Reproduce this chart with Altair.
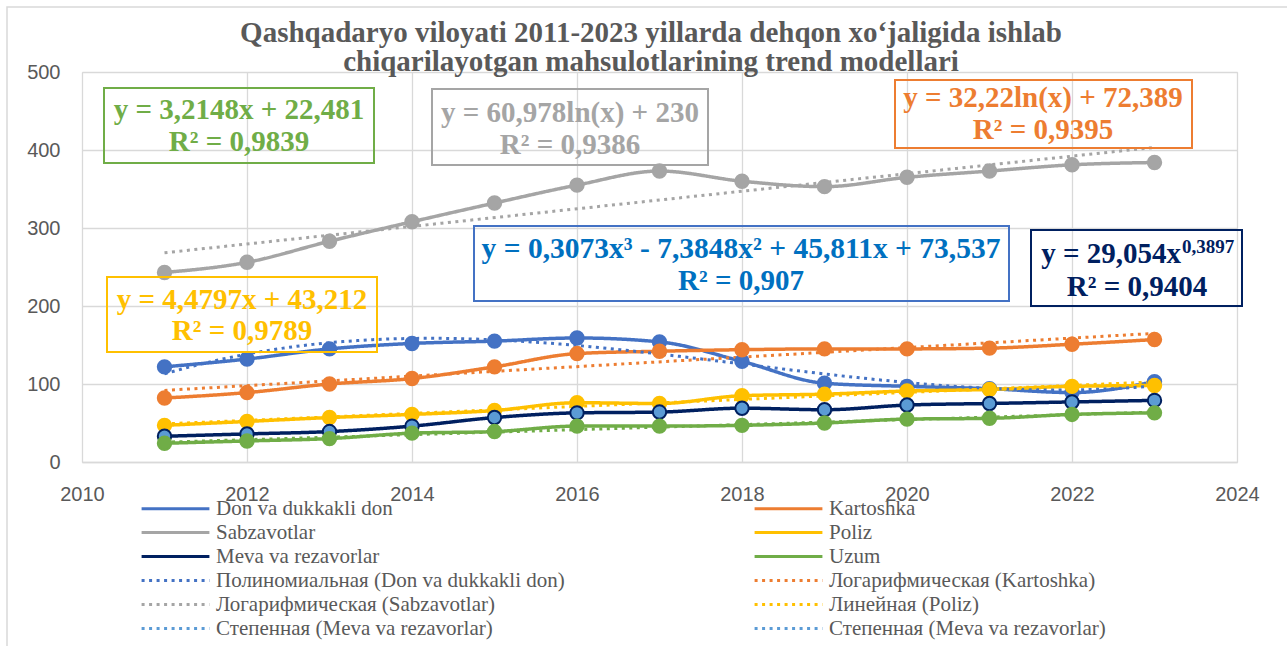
import altair as alt
import pandas as pd

years = list(range(2011, 2024))
don = [122, 132, 145, 152, 155, 159, 154, 129, 101, 97, 94, 89, 103]
kartoshka = [82, 89, 100, 107, 122, 139, 142, 144, 145, 145, 146, 151, 157]
sabzavotlar = [243, 256, 283, 308, 332, 355, 373, 360, 353, 365, 373, 381, 384]
poliz = [47, 52, 57, 61, 66, 76, 75, 85, 87, 91, 93, 97, 98]
meva = [33, 36, 39, 46, 57, 63, 64, 69, 67, 73, 75, 77, 79]
uzum = [24, 27, 30, 37, 39, 46, 46, 47, 50, 55, 56, 61, 63]

series_names = ["Don va dukkakli don", "Kartoshka", "Sabzavotlar", "Poliz",
                "Meva va rezavorlar", "Uzum"]
series_values = [don, kartoshka, sabzavotlar, poliz, meva, uzum]
trend_names = ["Полиномиальная (Don va dukkakli don)", "Логарифмическая (Kartoshka)",
               "Логарифмическая (Sabzavotlar)", "Линейная (Poliz)",
               "Степенная (Meva va rezavorlar)", "Степенная (Meva va rezavorlar)\u00a0"]
series_colors = ["#4472C4", "#ED7D31", "#A5A5A5", "#FFC000", "#002060", "#70AD47"]
trend_colors = ["#4472C4", "#ED7D31", "#A5A5A5", "#FFC000", "#5B9BD5", "#5B9BD5"]
marker_fill = ["#4472C4", "#ED7D31", "#A5A5A5", "#FFC000", "#5B9BD5", "#70AD47"]
x_ticks = list(range(2010, 2025, 2))
y_ticks = [0, 100, 200, 300, 400, 500]

title_lines = ["Qashqadaryo viloyati 2011-2023 yillarda dehqon xo\u2018jaligida ishlab",
               "chiqarilayotgan mahsulotlarining trend modellari"]

rows = []
for name, vals in zip(series_names, series_values):
    for yr, v in zip(years, vals):
        rows.append({"year": yr, "series": name, "value": v})
df = pd.DataFrame(rows)

LEFT, TOP, W, H = 82, 72, 1155, 390
DOT = [3, 4.5]

domain_all = series_names + trend_names
color_scale = alt.Scale(domain=domain_all, range=series_colors + trend_colors)
dash_scale = alt.Scale(domain=domain_all, range=[[1, 0]] * 6 + [DOT] * 6)

legend = alt.Legend(
    title=None, orient="none", legendX=83, legendY=426, columns=2, direction="horizontal",
    symbolType="M-10,0H10", symbolSize=46, symbolStrokeWidth=3,
    labelFont="Liberation Serif", labelFontSize=21, labelColor="#595959",
    labelLimit=700, labelOffset=30, rowPadding=2, columnPadding=183,
    padding=0,
)

xenc = alt.X("year:Q", scale=alt.Scale(domain=[2010, 2024], nice=False, zero=False),
             axis=alt.Axis(values=x_ticks, format="d", title=None, grid=True,
                           gridColor="#d9d9d9", gridWidth=1.3, ticks=False,
                           domainColor="#d9d9d9", domainWidth=1.5,
                           labelFont="Liberation Sans", labelFontSize=20,
                           labelColor="#595959", labelPadding=22, labelFlush=False))
yenc = alt.Y("value:Q", scale=alt.Scale(domain=[0, 500], nice=False),
             axis=alt.Axis(values=y_ticks, title=None, grid=True, gridColor="#d9d9d9",
                           gridWidth=1.3, ticks=False, domain=False,
                           labelFont="Liberation Sans", labelFontSize=20,
                           labelColor="#595959", labelPadding=22))

lines = alt.Chart(df).mark_line(interpolate="monotone", strokeWidth=3.5).encode(
    x=xenc, y=yenc,
    color=alt.Color("series:N", scale=color_scale, legend=legend),
    strokeDash=alt.StrokeDash("series:N", scale=dash_scale, legend=legend),
)

points = alt.Chart(df).mark_point(filled=True, size=180, opacity=1, strokeWidth=2).encode(
    x="year:Q", y="value:Q",
    fill=alt.Fill("series:N", scale=alt.Scale(domain=series_names, range=marker_fill), legend=None),
    stroke=alt.Stroke("series:N", scale=alt.Scale(domain=series_names, range=series_colors), legend=None),
)

# (series, legend label, regression method, polynomial order, regress on index?)
trend_specs = [
    (series_names[0], trend_names[0], "poly", 3, True),
    (series_names[1], trend_names[1], "log", None, False),
    (series_names[2], trend_names[2], "log", None, False),
    (series_names[3], trend_names[3], "linear", None, True),
    (series_names[4], trend_names[4], "pow", None, False),
]
trend_layers = []
for sname, tname, method, order, use_idx in trend_specs:
    kw = {"method": method}
    if order is not None:
        kw["order"] = order
    base = alt.Chart(df).transform_filter(alt.datum.series == sname)
    if use_idx:
        base = (base.transform_calculate(idx="datum.year - 2010")
                .transform_regression("idx", "value", **kw)
                .transform_calculate(year="datum.idx + 2010"))
    else:
        base = base.transform_regression("year", "value", **kw)
    t = base.mark_line(strokeWidth=3).encode(
        x="year:Q", y="value:Q",
        color=alt.datum(tname), strokeDash=alt.datum(tname))
    trend_layers.append(t)

uzum_trend = (alt.Chart(df)
              .transform_filter(alt.datum.series == "Uzum")
              .transform_regression("year", "value", method="linear")
              .mark_line(strokeWidth=3, color="#70AD47", strokeDash=DOT)
              .encode(x="year:Q", y="value:Q"))

one = pd.DataFrame({"k": [0]})


def box(x0, y0, x1, y1, color, width=2):
    return alt.Chart(one).mark_rect(fill="transparent", stroke=color, strokeWidth=width).encode(
        x=alt.value(x0 - LEFT), x2=alt.value(x1 - LEFT),
        y=alt.value(y0 - TOP), y2=alt.value(y1 - TOP))


def txt(x, y, s, color, size=29, align="center"):
    return alt.Chart(one).mark_text(
        text=s, font="Liberation Serif", fontWeight="bold", fontSize=size,
        color=color, align=align, baseline="middle").encode(
        x=alt.value(x - LEFT), y=alt.value(y - TOP))


annots = [
    box(7, 7, 1300, 660, "#d9d9d9", 1.5),
    txt(651, 33, title_lines[0], "#595959", size=29),
    txt(651, 62, title_lines[1], "#595959", size=29),
    box(104, 88, 374, 163, "#70AD47"),
    txt(239, 110, "y = 3,2148x + 22,481", "#70AD47"),
    txt(239, 142, "R\u00b2 = 0,9839", "#70AD47"),
    box(432, 89, 708, 165, "#A5A5A5"),
    txt(570, 113, "y = 60,978ln(x) + 230", "#A5A5A5"),
    txt(570, 145, "R\u00b2 = 0,9386", "#A5A5A5"),
    box(895, 80, 1192, 148, "#ED7D31"),
    txt(1043, 98, "y = 32,22ln(x) + 72,389", "#ED7D31"),
    txt(1043, 130, "R\u00b2 = 0,9395", "#ED7D31"),
    box(107, 277, 377, 352, "#FFC000"),
    txt(242, 300, "y = 4,4797x + 43,212", "#FFC000"),
    txt(242, 331, "R\u00b2 = 0,9789", "#FFC000"),
    box(474, 226, 1009, 301, "#4472C4"),
    txt(741, 249, "y = 0,3073x\u00b3 - 7,3848x\u00b2 + 45,811x + 73,537", "#0070C0", size=29.5),
    txt(741, 281, "R\u00b2 = 0,907", "#0070C0"),
    box(1031, 230, 1242, 306, "#002060"),
    txt(1181, 254, "y = 29,054x", "#002060", align="right"),
    txt(1182, 247, "0,3897", "#002060", size=19, align="left"),
    txt(1137, 287, "R\u00b2 = 0,9404", "#002060"),
]

chart = alt.layer(lines, *trend_layers, uzum_trend, points, *annots).properties(
    width=W, height=H,
    padding={"left": LEFT, "top": TOP, "right": 1287 - LEFT - W, "bottom": 646 - TOP - H},
    autosize=alt.AutoSizeParams(type="none"),
).configure_view(stroke="transparent").configure(background="white")

chart.save("out.html", embed_options={"renderer": "svg", "actions": False})
